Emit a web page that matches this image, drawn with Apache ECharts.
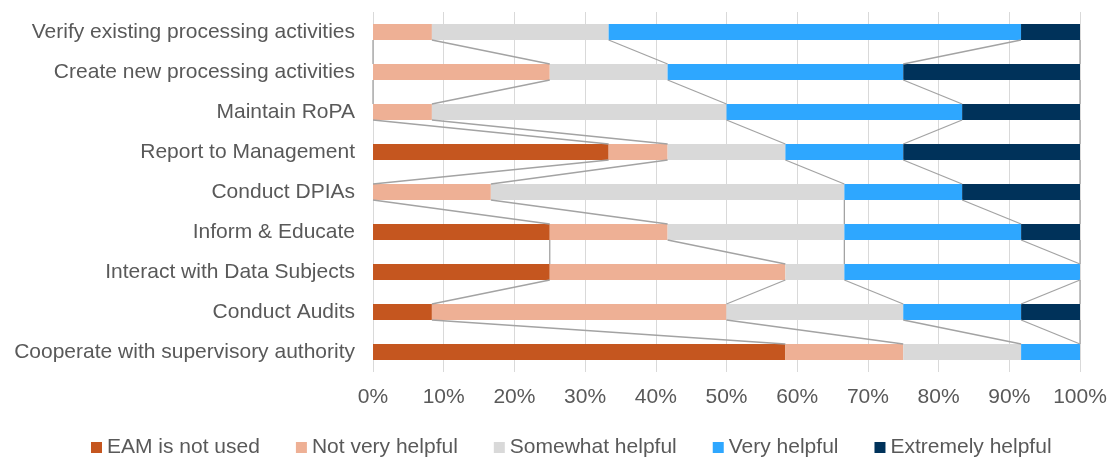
<!DOCTYPE html>
<html>
<head>
<meta charset="utf-8">
<script src="https://cdn.jsdelivr.net/npm/echarts@6/dist/echarts.min.js"></script>
<style>
  html, body { margin: 0; padding: 0; background: #fff; }
  #chart { width: 1112px; height: 459px; }
</style>
</head>
<body>
<div id="chart"></div>
<script>
// Tasks, listed top to bottom
const categories = [
  'Verify existing processing activities',
  'Create new processing activities',
  'Maintain RoPA',
  'Report to Management',
  'Conduct DPIAs',
  'Inform & Educate',
  'Interact with Data Subjects',
  'Conduct Audits',
  'Cooperate with supervisory authority'
];

// Share of answers per task (%)
const eamNotUsed      = [0, 0, 0, 33.33, 0, 25, 25, 8.33, 58.33];
const notVeryHelpful  = [8.33, 25, 8.33, 8.34, 16.67, 16.67, 33.33, 41.67, 16.67];
const somewhatHelpful = [25, 16.67, 41.67, 16.66, 50, 25, 8.34, 25, 16.67];
const veryHelpful     = [58.33, 33.33, 33.33, 16.67, 16.66, 25, 33.33, 16.67, 8.33];
const extremelyHelpful= [8.34, 25, 16.67, 25, 16.67, 8.33, 0, 8.33, 0];

const seriesNames = ['EAM is not used', 'Not very helpful', 'Somewhat helpful', 'Very helpful', 'Extremely helpful'];
const seriesValues = [eamNotUsed, notVeryHelpful, somewhatHelpful, veryHelpful, extremelyHelpful];
const colors = ['#C5561F', '#EEB095', '#D9D9D9', '#2EA7FF', '#00325A'];

const xTicks = { min: 0, max: 100, interval: 10 };

const BAR_W = 16;
const FONT_SIZE = 21;
const textColor = '#595959';
const fontFamily = '"Liberation Sans", Arial, sans-serif';

// Running totals: right edge of each segment in every bar
const cumulative = seriesValues.map((_, k) =>
  categories.map((_, i) => {
    let s = 0;
    for (let j = 0; j <= k; j++) s += seriesValues[j][i];
    return s;
  })
);

// Connector lines between the segment ends of neighbouring bars
const connectorData = [];
cumulative.forEach(row => {
  for (let i = 0; i < categories.length - 1; i++) {
    connectorData.push([row[i], i, row[i + 1], i + 1]);
  }
});

const chart = echarts.init(document.getElementById('chart'));

const barSeries = seriesNames.map((name, k) => ({
  name,
  type: 'bar',
  stack: 'total',
  barWidth: BAR_W,
  data: seriesValues[k],
  itemStyle: { color: colors[k] },
  emphasis: { disabled: true },
  z: 2
}));

const connectorSeries = {
  type: 'custom',
  coordinateSystem: 'cartesian2d',
  data: connectorData,
  encode: { x: [0, 2], y: [1, 3] },
  silent: true,
  z: 3,
  renderItem: function (params, api) {
    const p1 = api.coord([api.value(0), api.value(1)]);
    const p2 = api.coord([api.value(2), api.value(3)]);
    const half = BAR_W / 2;
    return {
      type: 'line',
      shape: { x1: p1[0], y1: p1[1] + half, x2: p2[0], y2: p2[1] - half },
      style: { stroke: '#A3A3A3', lineWidth: 1.3 }
    };
  }
};

chart.setOption({
  animation: false,
  textStyle: { fontFamily },
  grid: { left: 373, right: 32, top: 12, bottom: 87, containLabel: false },
  legend: {
    data: seriesNames,
    top: 432,
    left: 86,
    icon: 'rect',
    itemWidth: 11,
    itemHeight: 11,
    itemGap: 36,
    textStyle: { color: textColor, fontSize: FONT_SIZE, fontFamily }
  },
  xAxis: {
    type: 'value',
    min: xTicks.min,
    max: xTicks.max,
    interval: xTicks.interval,
    axisLabel: { formatter: '{value}%', color: textColor, fontSize: FONT_SIZE, margin: 15, fontFamily },
    axisLine: { show: false },
    axisTick: { show: false },
    splitLine: { show: true, lineStyle: { color: '#D9D9D9', width: 1 } }
  },
  yAxis: {
    type: 'category',
    inverse: true,
    data: categories,
    axisLabel: { color: textColor, fontSize: FONT_SIZE, margin: 18, fontFamily },
    axisLine: { show: false },
    axisTick: { show: false },
    splitLine: { show: false }
  },
  series: [...barSeries, connectorSeries]
});
</script>
</body>
</html>
